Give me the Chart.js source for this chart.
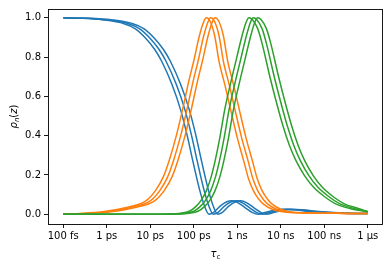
<!DOCTYPE html>
<html>
<head>
<meta charset="utf-8">
<script src="https://cdn.jsdelivr.net/npm/chart.js@4/dist/chart.umd.min.js"></script>
<style>
  body { margin: 0; background: #fff; }
  canvas { display: block; }
</style>
</head>
<body>
<canvas id="chart" width="390" height="268"></canvas>
<script>
// tick positions and labels of the tau axis (seconds)
var xTickValues = [1e-13, 1e-12, 1e-11, 1e-10, 1e-9, 1e-8, 1e-7, 1e-6];
var xTickLabels = ['100 fs', '1 ps', '10 ps', '100 ps', '1 ns', '10 ns', '100 ns', '1 \u03bcs'];
var yTickValues = [0, 0.2, 0.4, 0.6, 0.8, 1.0];

// rho_0 (blue): values along the curve, and log10(tau) where each of the three curves reaches them
var blueRho = [1.0, 0.998, 0.99, 0.97, 0.945, 0.895, 0.84, 0.78, 0.66, 0.53, 0.40, 0.27, 0.12, 0.04, 0.0, 0.008,
  0.04, 0.062, 0.068, 0.058, 0.03, 0.008, 0.0, 0.006, 0.018, 0.025, 0.022, 0.015, 0.01, 0.005, 0.003];
var blueLogTau = [
  [-13, -12.6, -12.1, -11.6, -11.35, -11.1, -10.9, -10.74, -10.5, -10.3, -10.15, -10.02, -9.86, -9.75, -9.65, -9.55,
    -9.4, -9.25, -9.12, -8.98, -8.8, -8.65, -8.52, -8.4, -8.2, -7.95, -7.7, -7.4, -7.1, -6.6, -6.0],
  [-13, -12.5, -12, -11.5, -11.25, -11.0, -10.8, -10.64, -10.4, -10.2, -10.05, -9.92, -9.76, -9.65, -9.55, -9.45,
    -9.3, -9.15, -9.02, -8.88, -8.7, -8.55, -8.42, -8.3, -8.1, -7.85, -7.6, -7.3, -7.0, -6.5, -6.0],
  [-13, -12.4, -11.9, -11.4, -11.15, -10.9, -10.7, -10.54, -10.3, -10.1, -9.95, -9.82, -9.66, -9.55, -9.45, -9.35,
    -9.2, -9.05, -8.92, -8.78, -8.6, -8.45, -8.32, -8.2, -8.0, -7.75, -7.5, -7.2, -6.9, -6.4, -6.0]
];

// rho_1 (orange)
var orangeRho = [0.001, 0.004, 0.012, 0.032, 0.068, 0.12, 0.19, 0.27, 0.40, 0.53, 0.69, 0.78, 0.90, 0.975, 1.0, 0.985,
  0.91, 0.78, 0.655, 0.53, 0.39, 0.27, 0.18, 0.12, 0.075, 0.05, 0.025, 0.013, 0.007, 0.005, 0.004, 0.003];
var orangeLogTau = [
  [-13, -12.6, -12.1, -11.6, -11.1, -10.88, -10.7, -10.57, -10.4, -10.26, -10.1, -10.0, -9.88, -9.78, -9.71, -9.63,
    -9.52, -9.42, -9.28, -9.15, -9.0, -8.85, -8.74, -8.63, -8.5, -8.39, -8.2, -8.0, -7.6, -7.1, -6.6, -6.0],
  [-13, -12.5, -12, -11.5, -11, -10.78, -10.6, -10.47, -10.3, -10.16, -10, -9.9, -9.78, -9.68, -9.61, -9.53,
    -9.42, -9.32, -9.18, -9.05, -8.9, -8.75, -8.64, -8.53, -8.4, -8.29, -8.1, -7.9, -7.5, -7.0, -6.5, -6.0],
  [-13, -12.4, -11.9, -11.4, -10.9, -10.68, -10.5, -10.37, -10.2, -10.06, -9.9, -9.8, -9.68, -9.58, -9.51, -9.43,
    -9.32, -9.22, -9.08, -8.95, -8.8, -8.65, -8.54, -8.43, -8.3, -8.19, -8.0, -7.8, -7.4, -6.9, -6.4, -6.0]
];

// rho_2 (green)
var greenRho = [0, 0, 0.001, 0.005, 0.015, 0.037, 0.07, 0.12, 0.19, 0.27, 0.39, 0.53, 0.67, 0.79, 0.9, 0.975,
  1.0, 0.99, 0.945, 0.87, 0.70, 0.57, 0.45, 0.35, 0.273, 0.195, 0.138, 0.09, 0.054, 0.028, 0.012];
var greenLogTau = [
  [-13, -11.1, -10.6, -10.3, -10.1, -9.96, -9.83, -9.71, -9.6, -9.51, -9.4, -9.29, -9.15, -9.02, -8.9, -8.8,
    -8.73, -8.65, -8.53, -8.43, -8.25, -8.1, -7.95, -7.8, -7.65, -7.45, -7.25, -7.0, -6.75, -6.4, -6.0],
  [-13, -11, -10.5, -10.2, -10.0, -9.86, -9.73, -9.61, -9.5, -9.41, -9.3, -9.19, -9.05, -8.92, -8.8, -8.7,
    -8.63, -8.55, -8.43, -8.33, -8.15, -8.0, -7.85, -7.7, -7.55, -7.35, -7.15, -6.9, -6.65, -6.3, -6.0],
  [-13, -10.9, -10.4, -10.1, -9.9, -9.76, -9.63, -9.51, -9.4, -9.31, -9.2, -9.09, -8.95, -8.82, -8.7, -8.6,
    -8.53, -8.45, -8.33, -8.23, -8.05, -7.9, -7.75, -7.6, -7.45, -7.25, -7.05, -6.8, -6.55, -6.2, -6.0]
];

var FONT = 'DejaVu Sans';

function makePoints(logTau, rho) {
  var pts = [];
  for (var i = 0; i < rho.length; i++) {
    pts.push({ x: Math.pow(10, logTau[i]), y: rho[i] });
  }
  return pts;
}

function makeSet(logTau, rho, color) {
  return {
    data: makePoints(logTau, rho),
    showLine: true,
    borderColor: color,
    backgroundColor: color,
    borderWidth: 1.5,
    pointRadius: 0,
    cubicInterpolationMode: 'monotone',
    fill: false
  };
}

// chart.js draws the first dataset on top, so green goes first
var datasets = [];
var groups = [
  [greenLogTau, greenRho, '#2ca02c'],
  [orangeLogTau, orangeRho, '#ff7f0e'],
  [blueLogTau, blueRho, '#1f77b4']
];
groups.forEach(function (g) {
  for (var k = 2; k >= 0; k--) {
    datasets.push(makeSet(g[0][k], g[1], g[2]));
  }
});

// text drawn in pieces so sub/italic parts look like mathtext
function drawPieces(ctx, pieces) {
  var total = 0;
  pieces.forEach(function (p) {
    ctx.font = p.f;
    p.w = ctx.measureText(p.t).width;
    total += p.w;
  });
  var x = -total / 2;
  pieces.forEach(function (p) {
    ctx.font = p.f;
    ctx.fillText(p.t, x, p.dy || 0);
    x += p.w;
  });
}

var framePlugin = {
  id: 'frame',
  afterDatasetsDraw: function (chart) {
    var ctx = chart.ctx;
    var a = chart.chartArea;
    ctx.save();
    ctx.strokeStyle = '#000';
    ctx.lineWidth = 0.9;
    ctx.strokeRect(Math.round(a.left) + 0.5, Math.round(a.top) + 0.5,
      Math.round(a.right - a.left) - 1, Math.round(a.bottom - a.top));
    ctx.restore();
  },
  afterDraw: function (chart) {
    var ctx = chart.ctx;
    var a = chart.chartArea;
    ctx.save();
    ctx.fillStyle = '#000';
    ctx.textBaseline = 'alphabetic';
    ctx.textAlign = 'left';
    // x title: tau_c
    ctx.translate((a.left + a.right) / 2, 257);
    drawPieces(ctx, [
      { t: '\u03c4', f: 'italic 10px ' + FONT },
      { t: 'c', f: '7px ' + FONT, dy: 1.5 }
    ]);
    ctx.restore();
    ctx.save();
    ctx.fillStyle = '#000';
    ctx.textBaseline = 'alphabetic';
    ctx.textAlign = 'left';
    // y title: rho_n(z)
    ctx.translate(17, (a.top + a.bottom) / 2);
    ctx.rotate(-Math.PI / 2);
    drawPieces(ctx, [
      { t: '\u03c1', f: 'italic 10px ' + FONT },
      { t: 'n', f: 'italic 7px ' + FONT, dy: 1.5 },
      { t: '(', f: '10px ' + FONT },
      { t: 'z', f: 'italic 10px ' + FONT },
      { t: ')', f: '10px ' + FONT }
    ]);
    ctx.restore();
  }
};

Chart.defaults.font.family = FONT;
Chart.defaults.font.size = 10;
Chart.defaults.color = '#000';

new Chart(document.getElementById('chart').getContext('2d'), {
  type: 'scatter',
  data: { datasets: datasets },
  plugins: [framePlugin],
  options: {
    responsive: false,
    animation: false,
    devicePixelRatio: 1,
    layout: { padding: { left: 0, right: 7, top: 7, bottom: 0 } },
    plugins: {
      legend: { display: false },
      tooltip: { enabled: false }
    },
    scales: {
      x: {
        type: 'logarithmic',
        position: 'bottom',
        min: Math.pow(10, -13.35),
        max: Math.pow(10, -5.65),
        afterBuildTicks: function (scale) {
          scale.ticks = xTickValues.map(function (v) { return { value: v }; });
        },
        afterFit: function (scale) { scale.height = 44; },
        ticks: {
          autoSkip: false,
          maxRotation: 0,
          padding: 2,
          callback: function (value, index) { return xTickLabels[index]; }
        },
        grid: { drawOnChartArea: false, drawTicks: true, tickLength: 4, color: '#000', tickWidth: 0.9 },
        border: { display: false }
      },
      y: {
        type: 'linear',
        min: -0.05,
        max: 1.045,
        afterBuildTicks: function (scale) {
          scale.ticks = yTickValues.map(function (v) { return { value: v }; });
        },
        afterFit: function (scale) { scale.width = 48; },
        ticks: {
          padding: 3,
          callback: function (value) { return value.toFixed(1); }
        },
        grid: { drawOnChartArea: false, drawTicks: true, tickLength: 4, color: '#000', tickWidth: 0.9 },
        border: { display: false }
      }
    }
  }
});
</script>
</body>
</html>
